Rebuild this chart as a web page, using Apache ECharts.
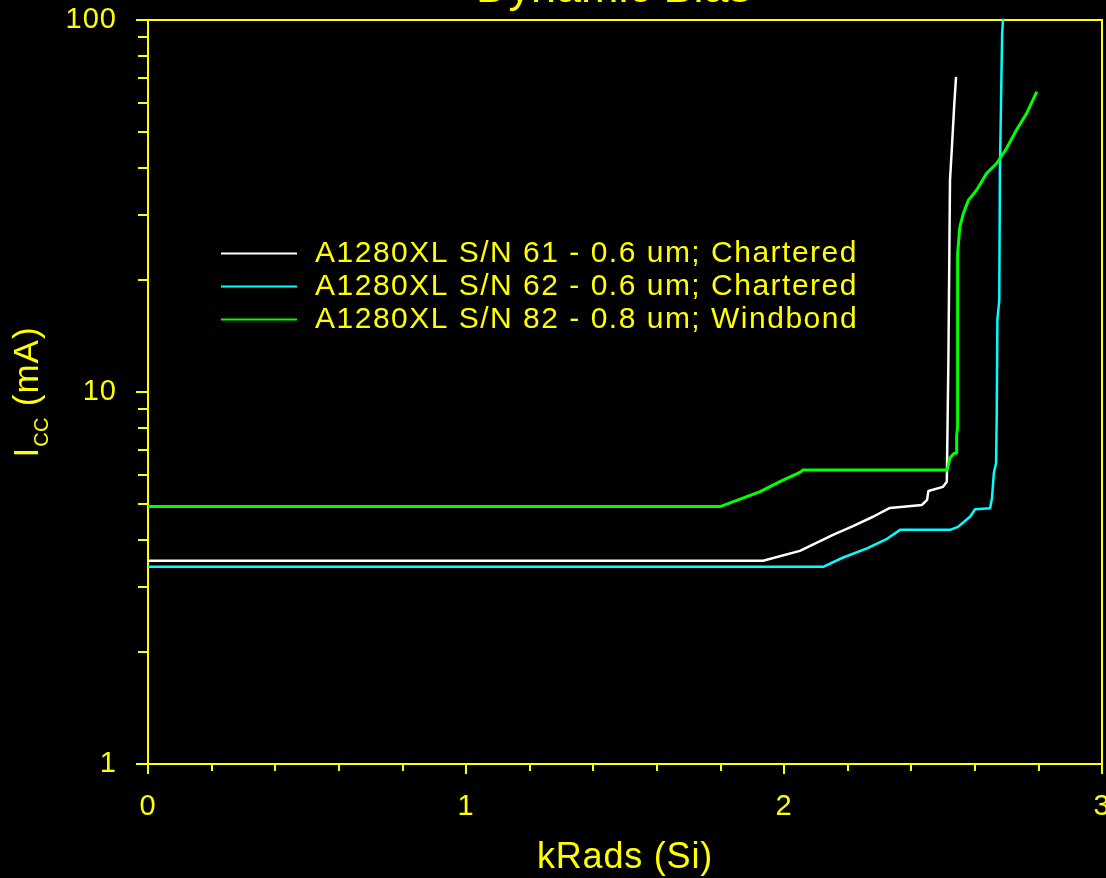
<!DOCTYPE html>
<html>
<head>
<meta charset="utf-8">
<script src="https://cdn.jsdelivr.net/npm/echarts@6/dist/echarts.min.js"></script>
<style>
html,body{margin:0;padding:0;background:#000;}
#chart{width:1106px;height:878px;}
</style>
</head>
<body>
<div id="chart"></div>
<script>
// ---- Data ----
const seriesNames = [
  'A1280XL S/N 61 - 0.6 um; Chartered',
  'A1280XL S/N 62 - 0.6 um; Chartered',
  'A1280XL S/N 82 - 0.8 um; Windbond'
];
const sn61X = [0, 1.934, 2.050, 2.154, 2.217, 2.280, 2.333, 2.434, 2.450, 2.454, 2.500, 2.512, 2.517, 2.517, 2.522, 2.522, 2.527, 2.535, 2.541];
const sn61Y = [3.52, 3.52, 3.74, 4.13, 4.36, 4.62, 4.88, 4.97, 5.13, 5.42, 5.56, 5.74, 5.74, 12.2, 12.2, 37.1, 43.9, 58.4, 70.3];
const sn62X = [0, 2.123, 2.186, 2.261, 2.324, 2.365, 2.522, 2.547, 2.585, 2.601, 2.648, 2.654, 2.660, 2.667, 2.669, 2.671, 2.677, 2.679, 2.686, 2.692];
const sn62Y = [3.39, 3.39, 3.59, 3.80, 4.03, 4.26, 4.26, 4.34, 4.62, 4.84, 4.87, 5.18, 6.06, 6.45, 8.78, 15.6, 17.7, 39.5, 92.3, 110];
const sn82X = [0, 1.799, 1.862, 1.925, 1.987, 2.050, 2.060, 2.513, 2.522, 2.535, 2.543, 2.543, 2.546, 2.546, 2.553, 2.564, 2.580, 2.606, 2.637, 2.669, 2.700, 2.731, 2.763, 2.795];
const sn82Y = [4.92, 4.92, 5.15, 5.40, 5.74, 6.08, 6.17, 6.17, 6.65, 6.84, 6.84, 7.66, 8.07, 23.6, 27.8, 30.2, 32.8, 34.9, 38.7, 41.2, 45.2, 50.6, 56.1, 64.2];
const seriesColors = ['#ffffff', '#00ffff', '#00ff00'];
const xTickValues = [0, 1, 2, 3];
const yMajorTicks = [1, 10, 100];
const yMinorTicks = [2, 3, 4, 5, 6, 7, 8, 9, 20, 30, 40, 50, 60, 70, 80, 90];

// Slightly letter-spaced text, as in the reference plot (canvas letterSpacing by font size)
(function () {
  const proto = window.CanvasRenderingContext2D && CanvasRenderingContext2D.prototype;
  if (!proto) return;
  const desc = Object.getOwnPropertyDescriptor(proto, 'font');
  if (!desc || !desc.set || !('letterSpacing' in proto)) return;
  const spacingBySize = {30: '1.5px', 29: '1px', 35: '1px', 36: '0.8px', 20: '0.5px'};
  Object.defineProperty(proto, 'font', {
    configurable: true,
    get: function () { return desc.get.call(this); },
    set: function (v) {
      desc.set.call(this, v);
      const m = /(\d+(?:\.\d+)?)px/.exec(v || '');
      this.letterSpacing = (m && spacingBySize[m[1]]) || '0px';
    }
  });
})();

const zip = (xs, ys) => xs.map((x, i) => [x, ys[i]]);
const allData = [zip(sn61X, sn61Y), zip(sn62X, sn62Y), zip(sn82X, sn82Y)];
const lineWidths = [2.5, 2.5, 3];

const YEL = '#ffff00';
const FONT = 'Liberation Sans, Arial, sans-serif';

const chart = echarts.init(document.getElementById('chart'), null, {renderer: 'canvas'});
chart.setOption({
  backgroundColor: '#000000',
  animation: false,
  title: {
    text: 'Dynamic Bias',
    left: 476,
    top: -33,
    padding: 0,
    textStyle: {color: YEL, fontFamily: FONT, fontSize: 45, fontWeight: 'normal'}
  },
  legend: {
    orient: 'vertical',
    left: 221,
    top: 237,
    padding: 0,
    itemGap: 0,
    itemWidth: 76,
    itemHeight: 2,
    icon: 'rect',
    selectedMode: false,
    data: seriesNames,
    textStyle: {color: YEL, fontFamily: FONT, fontSize: 30, lineHeight: 25, padding: [0, 0, 8, 13]}
  },
  grid: {
    left: 148, right: 4, top: 20, bottom: 114,
    show: true, borderColor: YEL, borderWidth: 2, backgroundColor: 'transparent',
    containLabel: false,
    outerBoundsMode: 'none'
  },
  xAxis: {
    type: 'value', min: 0, max: 3, interval: 1,
    name: 'kRads (Si)', nameLocation: 'middle', nameGap: 76,
    nameTextStyle: {color: YEL, fontFamily: FONT, fontSize: 36},
    axisLine: {show: true, lineStyle: {color: YEL, width: 2}},
    axisTick: {show: true, length: 10, lineStyle: {color: YEL, width: 2}},
    minorTick: {show: true, splitNumber: 5, length: 7, lineStyle: {color: YEL, width: 2}},
    axisLabel: {color: YEL, fontFamily: FONT, fontSize: 29, margin: 28, showMinLabel: true, showMaxLabel: true,
      customValues: xTickValues},
    splitLine: {show: false}
  },
  yAxis: [{
    type: 'log', logBase: 10, min: 1, max: 100, position: 'left',
    name: '{m|I}{s|CC}{m| (mA)}', nameLocation: 'middle', nameGap: 95, nameRotate: 90,
    nameTextStyle: {
      color: YEL, fontFamily: FONT,
      rich: {
        m: {color: YEL, fontFamily: FONT, fontSize: 35},
        s: {color: YEL, fontFamily: FONT, fontSize: 20, padding: [28, 0, 0, 0]}
      }
    },
    axisLine: {show: true, lineStyle: {color: YEL, width: 2}},
    axisTick: {show: true, length: 12, lineStyle: {color: YEL, width: 2}, customValues: yMajorTicks},
    axisLabel: {color: YEL, fontFamily: FONT, fontSize: 29, margin: 31, customValues: yMajorTicks},
    splitLine: {show: false}
  }, {
    type: 'log', logBase: 10, min: 1, max: 100, position: 'left', offset: 0,
    axisLine: {show: false},
    axisTick: {show: true, length: 10, lineStyle: {color: YEL, width: 2}, customValues: yMinorTicks},
    axisLabel: {show: false},
    splitLine: {show: false}
  }],
  series: allData.map((d, i) => ({
    name: seriesNames[i],
    type: 'line',
    yAxisIndex: 0,
    data: d,
    showSymbol: false,
    symbol: 'none',
    clip: true,
    color: seriesColors[i],
    lineStyle: {color: seriesColors[i], width: lineWidths[i]}
  }))
});
</script>
</body>
</html>
